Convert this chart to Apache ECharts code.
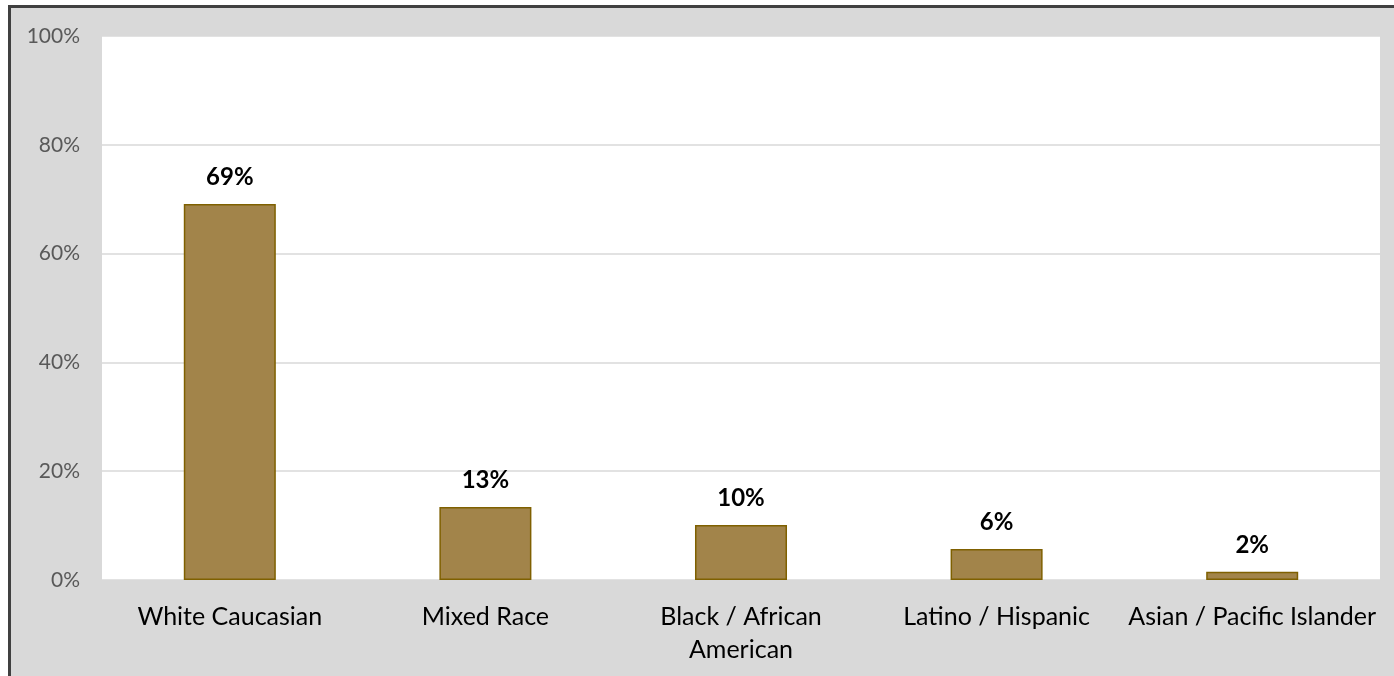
<!DOCTYPE html>
<html>
<head>
<meta charset="utf-8">
<script src="https://cdn.jsdelivr.net/npm/echarts@6/dist/echarts.min.js"></script>
<style>
  html, body { margin: 0; padding: 0; background: #ffffff; }
  #frame { position: absolute; left: 8px; top: 5px; width: 1394px; height: 676px;
           border-left: 3px solid #404040; border-top: 3px solid #404040; background: #d9d9d9; }
  #chart { position: absolute; left: 0; top: 0; width: 1394px; height: 676px; }
</style>
</head>
<body>
<div id="frame"></div>
<div id="chart"></div>
<script>
const categories = ['White Caucasian', 'Mixed Race', 'Black / African\nAmerican', 'Latino / Hispanic', 'Asian / Pacific Islander'];
const values = [69.1, 13.4, 10.1, 5.7, 1.5];
const yTicks = { min: 0, max: 100, interval: 20 };

const chart = echarts.init(document.getElementById('chart'), null, { renderer: 'canvas' });
chart.setOption({
  backgroundColor: 'transparent',
  animation: false,
  textStyle: { fontFamily: 'Lato' },
  grid: { left: 102, right: 14, top: 36, bottom: 96, show: true, backgroundColor: '#ffffff', borderWidth: 0 },
  xAxis: {
    type: 'category',
    data: categories,
    axisLine: { show: true, lineStyle: { color: '#d9d9d9', width: 1 } },
    axisTick: { show: false },
    axisLabel: { color: '#000000', fontSize: 25, fontFamily: 'Lato', margin: 20, lineHeight: 33, interval: 0 }
  },
  yAxis: {
    type: 'value',
    min: yTicks.min, max: yTicks.max, interval: yTicks.interval,
    axisLine: { show: false },
    axisTick: { show: false },
    axisLabel: { color: '#595959', fontSize: 21, fontFamily: 'Lato', margin: 22, formatter: '{value}%' },
    splitLine: { lineStyle: { color: '#d9d9d9', width: 1.5 } }
  },
  series: [{
    type: 'bar',
    data: values,
    barWidth: '36%',
    itemStyle: { color: '#a2844a', borderColor: '#7f6000', borderWidth: 1.5 },
    label: {
      show: true, position: 'top', distance: 15,
      color: '#000000', fontWeight: 'bold', fontSize: 24, fontFamily: 'Lato',
      formatter: p => Math.round(p.value) + '%'
    }
  }]
});
</script>
</body>
</html>
